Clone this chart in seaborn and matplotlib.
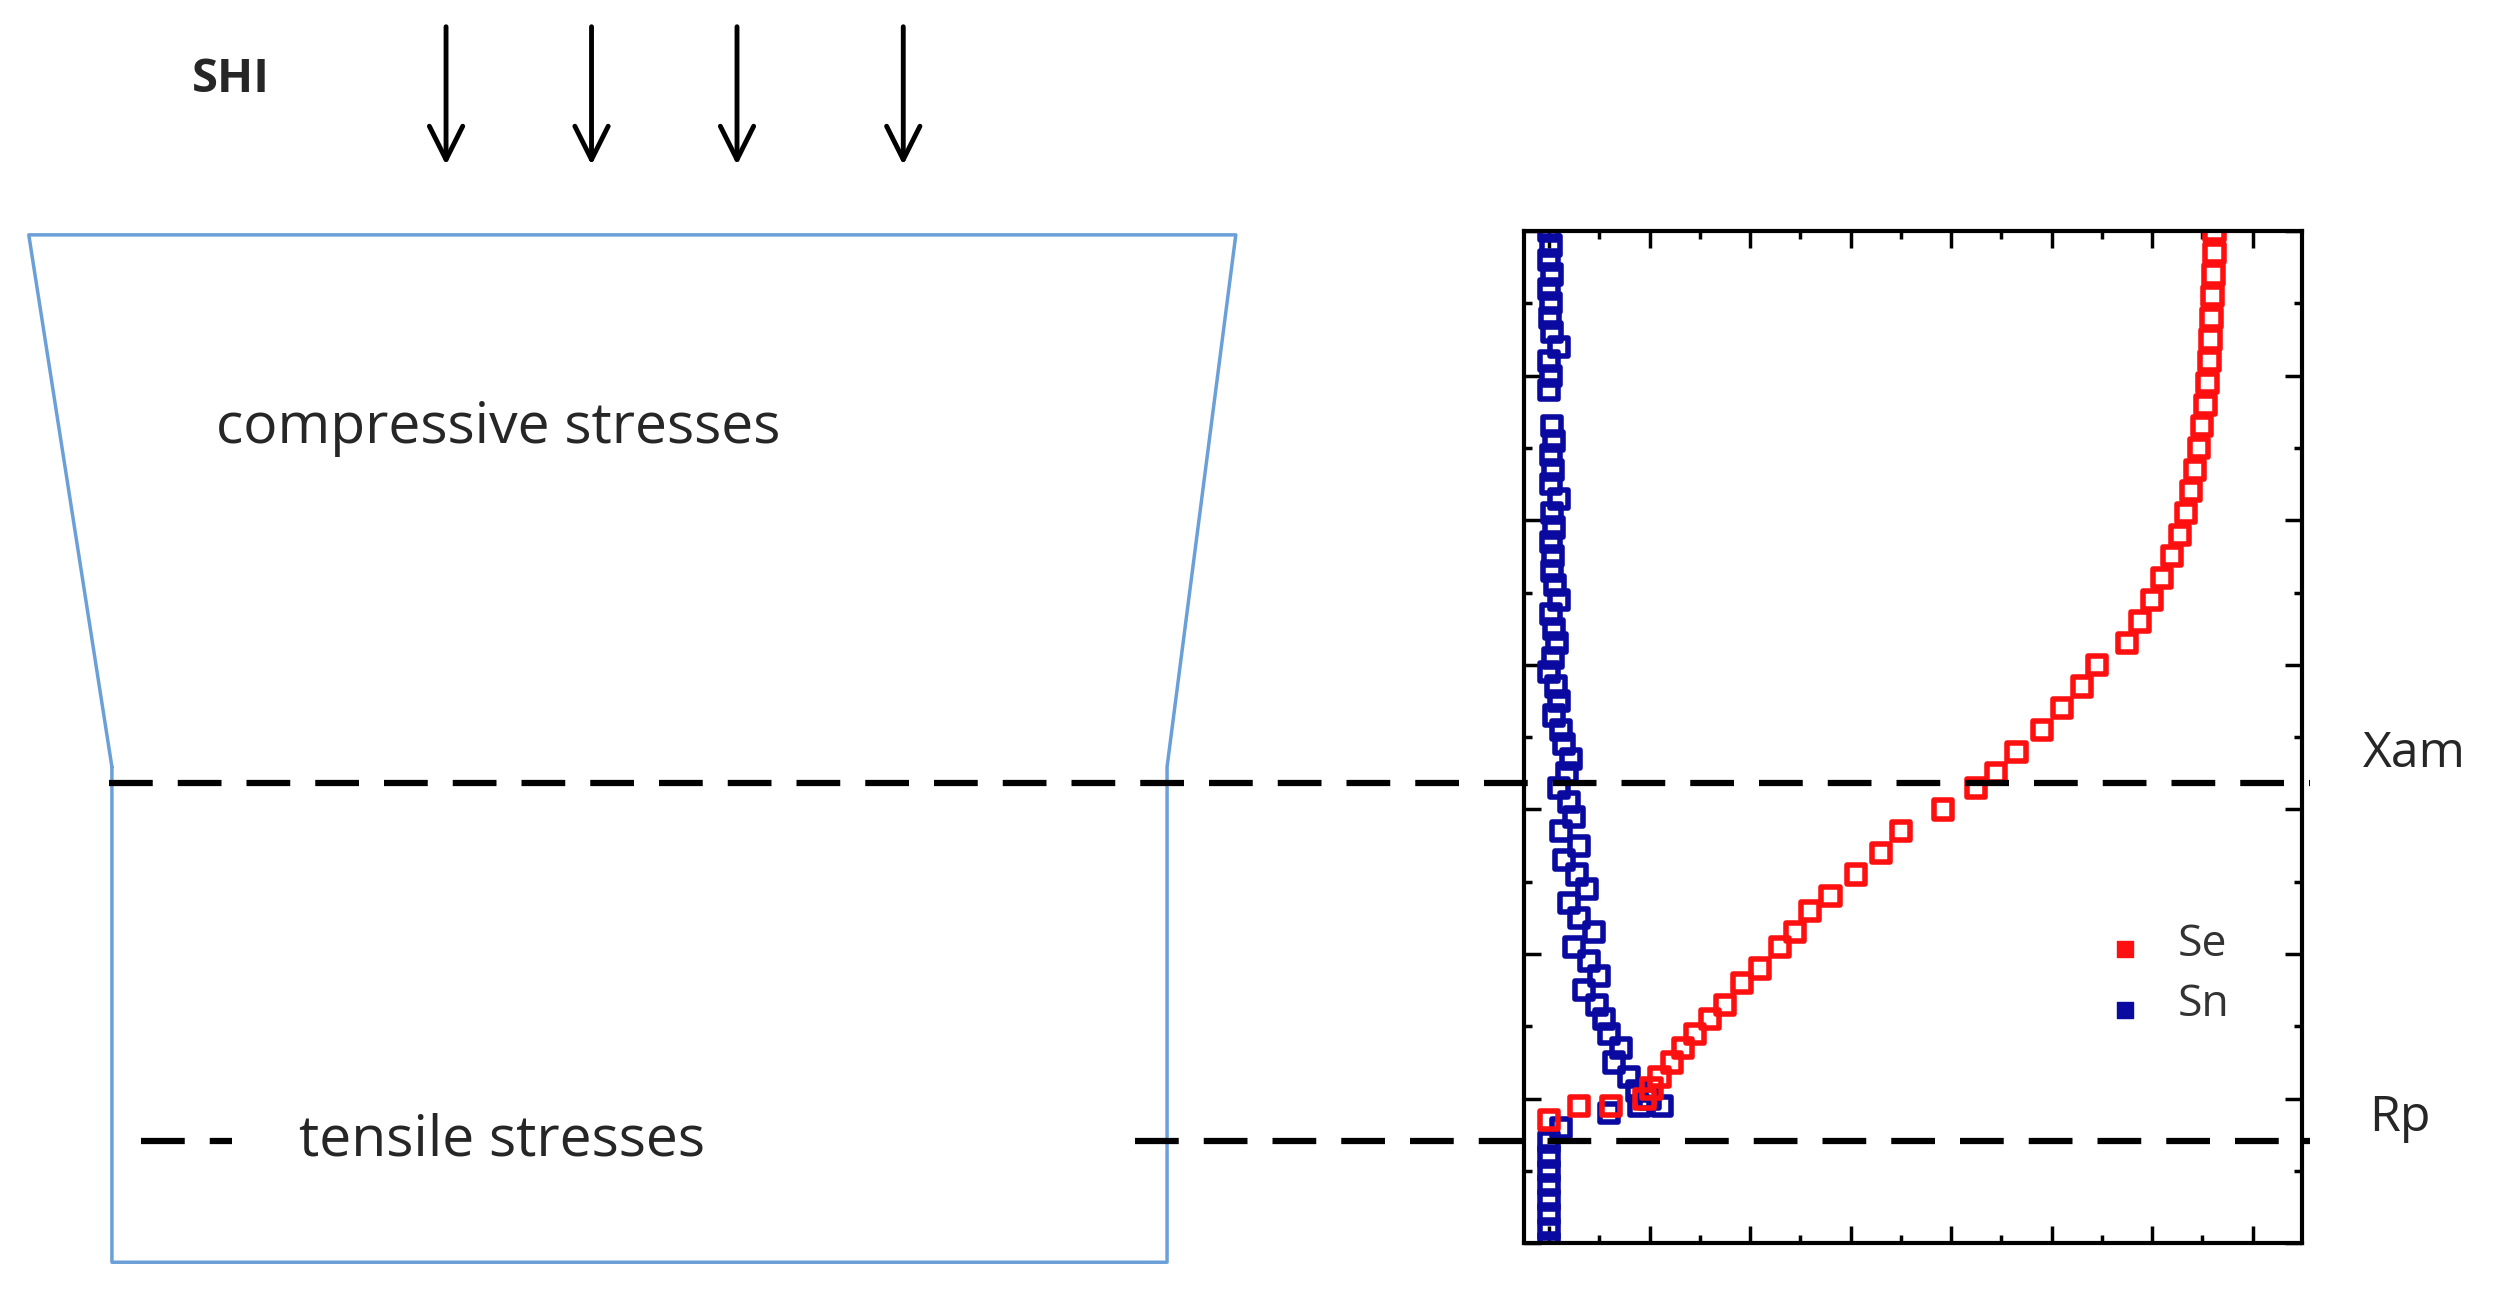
import matplotlib
matplotlib.use("Agg")
import matplotlib.pyplot as plt
from matplotlib.ticker import MultipleLocator
import seaborn as sns
import pandas as pd

# ---- data ----
se_depth = [0.0, 0.15, 0.3, 0.45, 0.6, 0.75, 0.9, 1.05, 1.2, 1.35, 1.5, 1.65, 1.8, 1.95,
            2.1, 2.25, 2.4, 2.55, 2.7, 2.85, 3.0, 3.15, 3.3, 3.45, 3.6, 3.75, 3.85, 4.0,
            4.15, 4.3, 4.45, 4.6, 4.7, 4.85, 4.95, 5.1, 5.2, 5.35, 5.45, 5.55, 5.65,
            5.75, 5.85, 5.93, 6.0, 6.05, 6.05, 6.15]
se_x = [6.62, 6.62, 6.61, 6.6, 6.59, 6.58, 6.57, 6.55, 6.53, 6.5, 6.47, 6.43, 6.39, 6.34,
        6.28, 6.2, 6.1, 6.0, 5.88, 5.75, 5.45, 5.3, 5.1, 4.9, 4.65, 4.45, 4.25, 3.92,
        3.5, 3.3, 3.05, 2.8, 2.6, 2.45, 2.3, 2.1, 1.92, 1.75, 1.6, 1.45, 1.33,
        1.22, 1.1, 1.02, 0.95, 0.62, 0.3, 0.0]

sn_depth = [0.0, 0.1, 0.2, 0.3, 0.4, 0.5, 0.6, 0.7, 0.8, 0.9, 1.0, 1.1, 1.35, 1.45, 1.55,
            1.65, 1.75, 1.85, 1.95, 2.05, 2.15, 2.25, 2.35, 2.45, 2.55, 2.65, 2.75, 2.85,
            2.95, 3.05, 3.15, 3.25, 3.35, 3.45, 3.55, 3.65, 3.75, 3.85, 3.95, 4.05, 4.15,
            4.25, 4.35, 4.45, 4.55, 4.65, 4.75, 4.85, 4.95, 5.05, 5.15, 5.25, 5.35, 5.45,
            5.55, 5.65, 5.75, 5.85, 5.95, 6.0, 6.05, 6.05, 6.1, 6.2, 6.3, 6.4, 6.5, 6.6,
            6.7, 6.8, 6.9, 7.0]
sn_x = [0.0, 0.02, 0.0, 0.03, 0.0, 0.02, 0.01, 0.03, 0.1, 0.0, 0.02, 0.0, 0.03, 0.05, 0.02,
        0.04, 0.02, 0.1, 0.03, 0.05, 0.02, 0.04, 0.03, 0.06, 0.1, 0.02, 0.05, 0.08,
        0.04, 0.0, 0.07, 0.1, 0.05, 0.12, 0.15, 0.22, 0.18, 0.1, 0.2, 0.25, 0.12,
        0.3, 0.15, 0.28, 0.38, 0.2, 0.3, 0.45, 0.25, 0.4, 0.5, 0.35, 0.48, 0.55,
        0.6, 0.72, 0.65, 0.8, 0.88, 1.0, 1.12, 0.9, 0.6, 0.12, 0.0, 0.0, 0.0, 0.0,
        0.0, 0.0, 0.0, 0.0]

se = pd.DataFrame({"x": se_x, "depth": se_depth})
sn = pd.DataFrame({"x": sn_x, "depth": sn_depth})

sns.set_style("white")
plt.rcParams["font.family"] = ["Open Sans", "DejaVu Sans"]

fig = plt.figure(figsize=(24.94, 12.91), dpi=100)

# ---- chart ----
ax = fig.add_axes([0.611, 0.037, 0.312, 0.784])
mk = dict(marker="s", s=170, facecolor="none", linewidth=4, legend=False, ax=ax)
sns.scatterplot(data=sn, x="x", y="depth", edgecolor="#0a0aa0", **mk)
sns.scatterplot(data=se, x="x", y="depth", edgecolor="#ff1010", **mk)
ax.set_xlim(-0.25, 7.49)
ax.set_ylim(7.0, 0.0)
ax.set_xlabel("")
ax.set_ylabel("")
ax.xaxis.set_major_locator(MultipleLocator(1))
ax.xaxis.set_minor_locator(MultipleLocator(0.5))
ax.yaxis.set_major_locator(MultipleLocator(1))
ax.yaxis.set_minor_locator(MultipleLocator(0.5))
ax.tick_params(which="both", direction="in", top=True, right=True, bottom=True, left=True,
               labelbottom=False, labelleft=False, width=2.5, color="black")
ax.tick_params(which="major", length=12)
ax.tick_params(which="minor", length=6)
for s in ax.spines.values():
    s.set_color("black")
    s.set_linewidth(3)

# ---- schematic overlay (coords in a 1560 x 808 frame) ----
ov = fig.add_axes([0, 0, 1, 1], facecolor="none")
ov.set_xlim(0, 1560)
ov.set_ylim(808, 0)
ov.axis("off")
blue = "#6a9fd8"
ov.plot([70, 18, 773, 730, 730, 70, 70], [480, 147, 147, 480, 790, 790, 480], color=blue, lw=2.5)

# dashed lines
dash = (0, (7, 4))
ov.plot([68, 1445], [490, 490], color="black", lw=4.5, ls=dash)
ov.plot([88, 145], [714, 714], color="black", lw=4.5, ls=dash)
ov.plot([710, 1445], [714, 714], color="black", lw=4.5, ls=dash)

# arrows
for xa in [279, 370, 461, 565]:
    ov.annotate("", xy=(xa, 105), xytext=(xa, 15),
                arrowprops=dict(arrowstyle="->", color="black", lw=3.5, mutation_scale=60))

ov.text(120, 50, "SHI", fontsize=34, fontweight="bold", va="center")
ov.text(135, 268, "compressive stresses", fontsize=41, va="center")
ov.text(187, 714, "tensile stresses", fontsize=41, va="center")
ov.text(1478, 472, "Xam", fontsize=36, va="center")
ov.text(1482, 700, "Rp", fontsize=36, va="center")

# legend
ov.scatter([1329], [594], marker="s", s=130, color="#ff1010")
ov.scatter([1329], [632], marker="s", s=130, color="#0a0aa0")
ov.text(1362, 591, "Se", fontsize=32, va="center", color="#333333")
ov.text(1362, 629, "Sn", fontsize=32, va="center", color="#333333")

fig.savefig("out.png", dpi=100)
